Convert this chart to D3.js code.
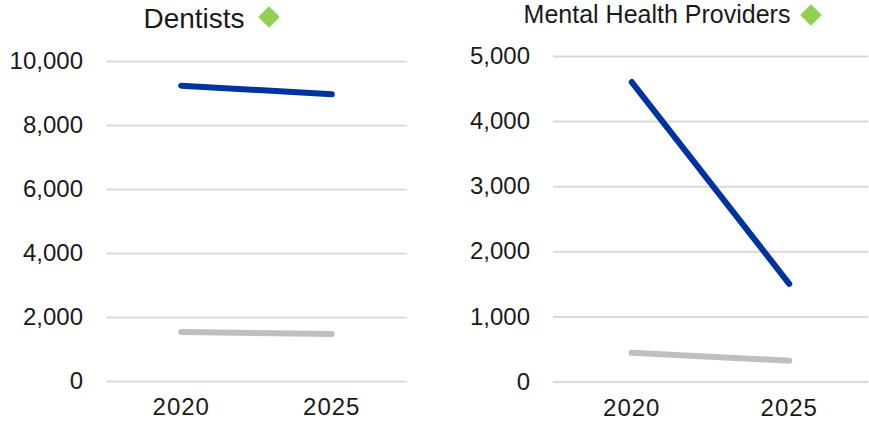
<!DOCTYPE html>
<html>
<head>
<meta charset="utf-8">
<script src="https://cdn.jsdelivr.net/npm/d3@7"></script>
<style>
  body { margin: 0; background: #fff; }
  svg { font-family: "Liberation Sans", Arial, sans-serif; }
</style>
</head>
<body>
<div id="chart"></div>
<script>
// anos (eixo x)
const years = ["2020", "2025"];

// painel 1: dentistas
const dentistsMain = [9230, 8960];
const dentistsRef = [1530, 1470];
const dentistsTicks = [0, 2000, 4000, 6000, 8000, 10000];

// painel 2: saúde mental
const mentalMain = [4600, 1500];
const mentalRef = [440, 320];
const mentalTicks = [0, 1000, 2000, 3000, 4000, 5000];

const width = 869;
const height = 428;

const svg = d3.select("#chart")
    .append("svg")
    .attr("width", width)
    .attr("height", height)
    .style("background", "white");

function drawPanel(opts) {
    const { left, right, top, bottom, max, ticks, main, ref, title, titleX, titleY, titleSize, diamondX, diamondY } = opts;

    const g = svg.append("g");

    const x = d3.scaleBand()
        .domain(years)
        .range([left, right]);

    const y = d3.scaleLinear()
        .domain([0, max])
        .range([bottom, top]);

    // linhas de grade + rótulos do eixo y
    const yAxis = g.append("g")
        .attr("transform", `translate(${left},0)`)
        .call(d3.axisLeft(y)
            .tickValues(ticks)
            .tickSize(-(right - left))
            .tickPadding(23)
            .tickFormat(d3.format(",")));
    yAxis.select(".domain").remove();
    yAxis.selectAll(".tick line")
        .attr("stroke", "#d9d9d9")
        .attr("stroke-width", 2);
    yAxis.selectAll(".tick text")
        .attr("fill", "#1a1a1a")
        .style("font-size", "24px");

    // eixo x
    const xAxis = g.append("g")
        .attr("transform", `translate(0,${bottom})`)
        .call(d3.axisBottom(x).tickSize(0).tickPadding(17));
    xAxis.select(".domain").remove();
    xAxis.selectAll(".tick text")
        .attr("fill", "#1a1a1a")
        .style("font-size", "24px")
        .style("letter-spacing", "1px");

    const line = d3.line()
        .x((d, i) => x(years[i]) + x.bandwidth() / 2)
        .y(d => y(d));

    g.append("path")
        .datum(ref)
        .attr("d", line)
        .attr("fill", "none")
        .attr("stroke", "#bfbfbf")
        .attr("stroke-width", 6)
        .attr("stroke-linecap", "round");

    g.append("path")
        .datum(main)
        .attr("d", line)
        .attr("fill", "none")
        .attr("stroke", "#0033a0")
        .attr("stroke-width", 6)
        .attr("stroke-linecap", "round");

    // título
    g.append("text")
        .attr("x", titleX)
        .attr("y", titleY)
        .attr("text-anchor", "middle")
        .attr("fill", "#1a1a1a")
        .style("font-size", titleSize + "px")
        .text(title);

    g.append("path")
        .attr("d", d3.symbol(d3.symbolSquare, 230)())
        .attr("transform", `translate(${diamondX},${diamondY}) rotate(45)`)
        .attr("fill", "#92d050");
}

drawPanel({
    left: 106, right: 407, top: 61, bottom: 381,
    max: 10000, ticks: dentistsTicks,
    main: dentistsMain, ref: dentistsRef,
    title: "Dentists", titleX: 194, titleY: 28, titleSize: 28,
    diamondX: 269, diamondY: 17
});

drawPanel({
    left: 553, right: 868, top: 56, bottom: 381.5,
    max: 5000, ticks: mentalTicks,
    main: mentalMain, ref: mentalRef,
    title: "Mental Health Providers", titleX: 657, titleY: 23, titleSize: 25,
    diamondX: 811, diamondY: 15
});
</script>
</body>
</html>
